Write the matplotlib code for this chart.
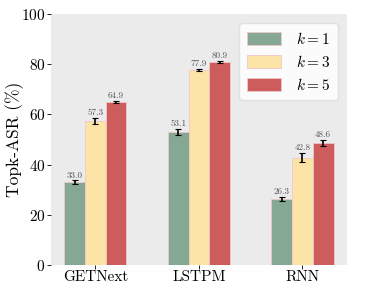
import numpy as np
import matplotlib
matplotlib.use('Agg')
import matplotlib.pyplot as plt

plt.rcParams['font.family'] = ['cmr10', 'DejaVu Serif']
plt.rcParams['mathtext.fontset'] = 'cm'
plt.rcParams['axes.formatter.use_mathtext'] = True

models = ['GETNext', 'LSTPM', 'RNN']
ks = ['$k=1$', '$k=3$', '$k=5$']
means = [[33.0, 53.1, 26.3],
         [57.3, 77.9, 42.8],
         [64.9, 80.9, 48.6]]
errs = [[0.8, 1.3, 0.9],
        [1.2, 0.4, 1.8],
        [0.4, 0.5, 1.2]]
colors = ['#84a893', '#fce4a6', '#cd5c5c']

fig = plt.figure(figsize=(3.66, 2.92), dpi=100)
ax = fig.add_axes([0.139, 0.092, 0.809, 0.86])
ax.set_facecolor('#ebebeb')
for s in ax.spines.values():
    s.set_visible(False)

x = np.arange(len(models))
w = 0.2
for i in range(3):
    pos = x + (i - 1) * w
    ax.bar(pos, means[i], w, color=colors[i], edgecolor='#f0c8c8', linewidth=0.6,
           label=ks[i], yerr=errs[i], capsize=2,
           error_kw=dict(ecolor='black', elinewidth=1.2, capthick=0.8))
    for p, m, e in zip(pos, means[i], errs[i]):
        ax.text(p, m + e + 0.3, '%.1f' % m, ha='center', va='bottom',
                fontsize=6.5, color='#555555')

ax.set_ylim(0, 100)
ax.set_xticks(x)
ax.set_xticklabels(models, fontsize=11)
ax.tick_params(axis='y', labelsize=11, length=3, width=0.6, pad=1)
ax.tick_params(axis='x', length=3, width=0.6, pad=1)
ax.set_ylabel('Topk-ASR (%)', fontsize=12.5)
ax.yaxis.set_label_coords(-0.09, 0.5)
ax.legend(loc='upper right', fontsize=11, handlelength=2.2, handleheight=0.9,
          framealpha=0.85, edgecolor='#dddddd', borderpad=0.5, labelspacing=0.45,
          handletextpad=1.0, borderaxespad=0.6)
fig.savefig('out.png', dpi=100)
